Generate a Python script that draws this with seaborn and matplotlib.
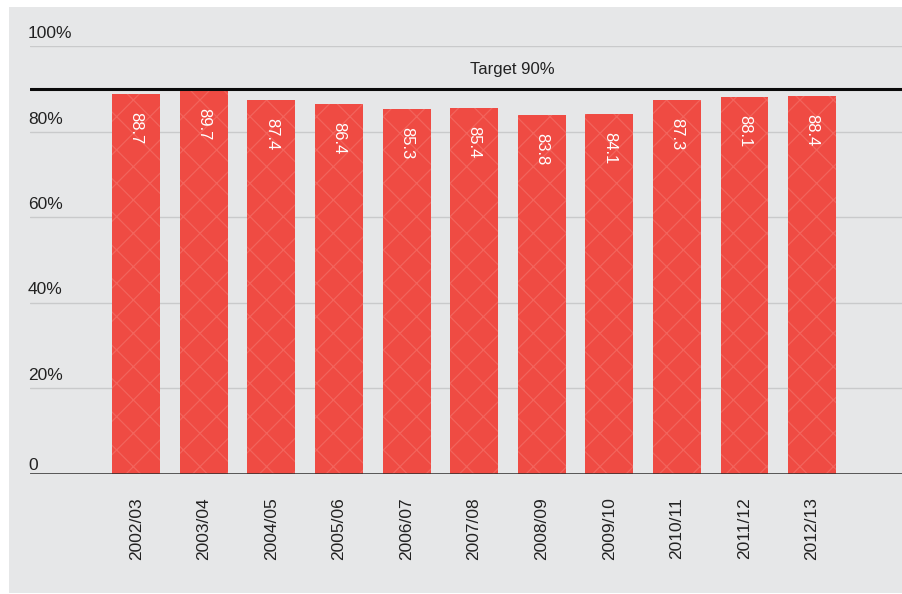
import matplotlib
matplotlib.use("Agg")
import matplotlib.pyplot as plt
import matplotlib.transforms as mtransforms
from matplotlib.patches import Rectangle
import pandas as pd
import seaborn as sns

# Data
periods = ["2002/03", "2003/04", "2004/05", "2005/06", "2006/07", "2007/08",
           "2008/09", "2009/10", "2010/11", "2011/12", "2012/13"]
values = [88.7, 89.7, 87.4, 86.4, 85.3, 85.4, 83.8, 84.1, 87.3, 88.1, 88.4]
y_ticks = [0, 20, 40, 60, 80, 100]
y_tick_labels = ["0", "20%", "40%", "60%", "80%", "100%"]
target = 90
target_label = "Target 90%"

sns.set_theme(style="white")
plt.rcParams["font.family"] = ["Liberation Sans", "DejaVu Sans"]
plt.rcParams["hatch.linewidth"] = 0.9

BG = "#e6e7e8"
BAR = "#ef4b43"
TEXT = "#222222"

W, H = 902, 594
fig = plt.figure(figsize=(W / 100, H / 100), dpi=100)
fig.patch.set_facecolor("white")
fig.patches.append(Rectangle((9 / W, 1 - 593 / H), (W - 9) / W, (593 - 7) / H,
                             transform=fig.transFigure, facecolor=BG,
                             edgecolor="none", zorder=-10))

ax = fig.add_axes([30 / W, 120.5 / H, (W - 30) / W, (473.5 - 46) / H])
ax.set_facecolor("none")
ax.set_zorder(5)

df = pd.DataFrame({"period": periods, "value": values})
sns.barplot(data=df, x="period", y="value", color=BAR, saturation=1,
            width=0.71, ax=ax, zorder=2, edgecolor="none", linewidth=0)

# Faint tread-plate texture on the bars
for bar in ax.patches:
    bar.set_hatch("x")
    bar.set_edgecolor("#f2645c")
    bar.set_linewidth(0)

ax.set_xlim(-1.57, 11.33)
ax.set_ylim(0, 100)
ax.set_xlabel("")
ax.set_ylabel("")
for s in ax.spines.values():
    s.set_visible(False)

# Gridlines
for v in y_ticks[1:]:
    ax.axhline(v, color="#c9cacb", lw=1.0, zorder=1)
# Zero baseline
ax.axhline(0, color="#2e2e2e", lw=2.0, alpha=0.85, zorder=3)
# Target line
ax.axhline(target, color="#0a0a0a", lw=2.2, zorder=3)
ax.text(5.56, 94.4, target_label, ha="center", va="center",
        fontsize=12, color=TEXT)

# Y tick labels sit above the gridlines, left aligned
ax.set_yticks([])
for v, lab in zip(y_ticks, y_tick_labels):
    off = 3 if v == 0 else 8
    tr = mtransforms.offset_copy(ax.get_yaxis_transform(), fig=fig,
                                 x=-2, y=off, units="dots")
    ax.text(0, v, lab, transform=tr, ha="left", va="baseline",
            fontsize=12.5, color=TEXT)

# X tick labels
ax.tick_params(axis="x", length=0, pad=17, labelsize=12.5, labelcolor=TEXT)
plt.setp(ax.get_xticklabels(), rotation=90, va="top", ha="center")

# Value labels inside bars
for i, v in enumerate(values):
    tr = mtransforms.offset_copy(ax.transData, fig=fig, x=0, y=-18, units="dots")
    ax.text(i, v, f"{v:.1f}", transform=tr, rotation=270, ha="center",
            va="top", fontsize=12, color="white", zorder=4)

fig.savefig("out.png", dpi=100, facecolor="white")
